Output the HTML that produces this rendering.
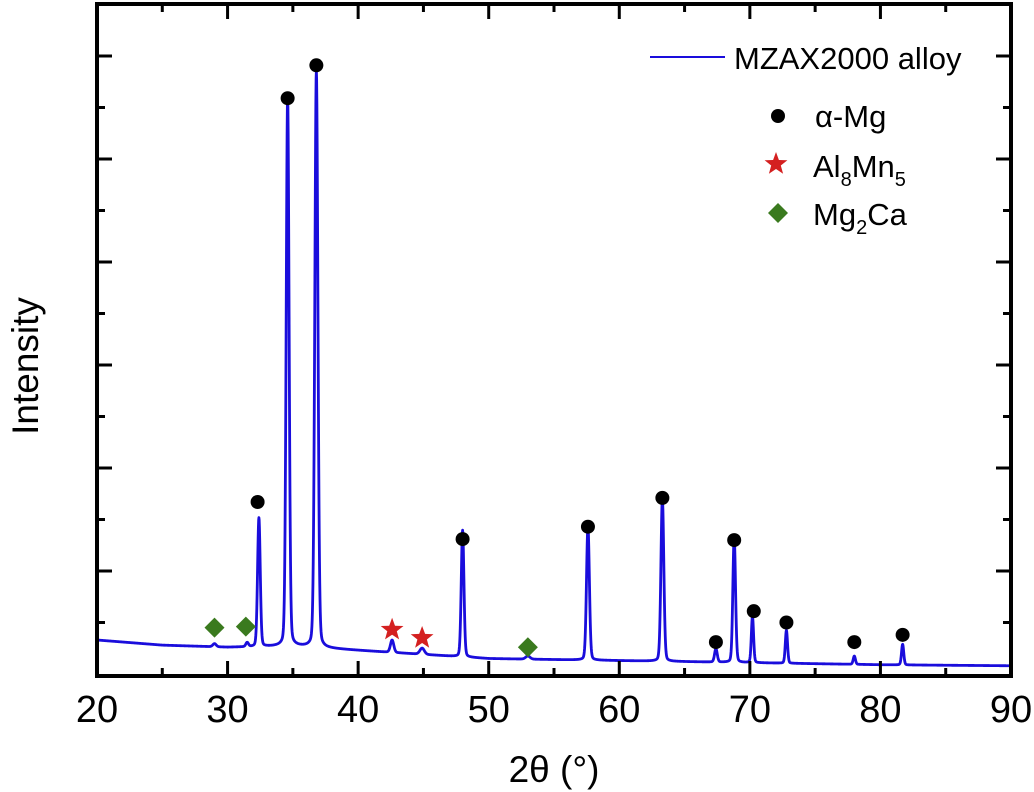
<!DOCTYPE html>
<html><head><meta charset="utf-8"><style>
body{margin:0;background:#fff;}
svg{display:block;font-family:"Liberation Sans",Arial,sans-serif;}
</style></head><body>
<svg id="chart" width="1034" height="792" viewBox="0 0 1034 792">
<g id="plot"></g>
<g id="marks"></g>
<g id="axes"></g>
<g id="legend">
  <g>
    <line x1="650" y1="57" x2="725" y2="57" stroke="#1a0ddc" stroke-width="2"/>
    <text x="734" y="69" font-size="31">MZAX2000 alloy</text>
  </g>
  <g>
    <circle cx="778" cy="116" r="7" fill="#000"/>
    <text x="815" y="127" font-size="31">α-Mg</text>
  </g>
  <g>
    <polygon id="legstar" fill="#d42020"/>
    <text x="813" y="177" font-size="31">Al<tspan font-size="20" dy="9">8</tspan><tspan dy="-9">Mn</tspan><tspan font-size="20" dy="9">5</tspan></text>
  </g>
  <g>
    <polygon points="778,203 788,213 778,223 768,213" fill="#3a7a1e"/>
    <text x="813" y="225" font-size="31">Mg<tspan font-size="20" dy="9">2</tspan><tspan dy="-9">Ca</tspan></text>
  </g>
</g>
<text x="554" y="782" font-size="37" text-anchor="middle">2θ (°)</text>
<text transform="translate(38,366) rotate(-90)" font-size="37" text-anchor="middle">Intensity</text>
</svg>
<script>
// data
const peakPos = [29.0,31.5,32.4,34.6,36.8,42.6,44.9,48.0,53.0,57.6,63.3,67.4,68.8,70.2,72.8,78.0,81.7];
const peakHeight = [0.03,0.04,1.25,5.33,5.60,0.12,0.06,1.23,0.03,1.30,1.58,0.13,1.22,0.45,0.32,0.08,0.20];
const peakWidth = [0.15,0.12,0.12,0.13,0.14,0.15,0.2,0.12,0.2,0.13,0.13,0.12,0.12,0.1,0.1,0.1,0.1];
const baseX = [20,25,30,35,40,45,50,55,60,65,70,80,90];
const baseY = [0.33,0.28,0.26,0.27,0.23,0.19,0.15,0.14,0.13,0.12,0.11,0.09,0.08];
const alphaMgX = [32.3,34.6,36.8,48.0,57.6,63.3,68.8,70.3,72.8,67.4,78.0,81.7];
const alphaMgY = [1.67,5.59,5.91,1.31,1.43,1.71,1.30,0.61,0.50,0.31,0.31,0.38];
const al8mn5X = [42.6,44.9];
const al8mn5Y = [0.43,0.35];
const mg2caX = [29.0,31.4,53.0];
const mg2caY = [0.45,0.46,0.26];
const xTicks = [20,30,40,50,60,70,80,90];

const X0=97,X1=1011,Ytop=4,Ybot=676;
const xs = v => X0 + (v-20)/(90-20)*(X1-X0);
const ys = v => 674 - v*103;
const NS='http://www.w3.org/2000/svg';
function mk(tag, attrs, parent){const e=document.createElementNS(NS,tag);for(const k in attrs)e.setAttribute(k,attrs[k]);parent.appendChild(e);return e;}
function base(x){for(let i=0;i<baseX.length-1;i++){if(x<=baseX[i+1]){const t=(x-baseX[i])/(baseX[i+1]-baseX[i]);return baseY[i]+t*(baseY[i+1]-baseY[i]);}}return baseY[baseY.length-1];}
function intensity(x){let s=base(x);for(let i=0;i<peakPos.length;i++){const d=(x-peakPos[i])/peakWidth[i];s+=peakHeight[i]*(0.85*Math.exp(-0.693*d*d)+0.15/(1+d*d));}return s;}
const plot=document.getElementById('plot');
let d='';
for(let x=20;x<=90.0001;x+=0.02){d+=(d?'L':'M')+xs(x).toFixed(2)+','+ys(intensity(x)).toFixed(2);}
const line=mk('path',{d:d,fill:'none',stroke:'#1a0ddc','stroke-width':2.8,'stroke-linejoin':'round'},plot);



function starPts(cx,cy,R,r){let p=[];for(let i=0;i<10;i++){const a=-Math.PI/2+i*Math.PI/5;const rr=i%2?r:R;p.push((cx+rr*Math.cos(a)).toFixed(1)+','+(cy+rr*Math.sin(a)).toFixed(1));}return p.join(' ');}
document.getElementById('legstar').setAttribute('points',starPts(776,164,12,5));
const marks=document.getElementById('marks');
for(let i=0;i<alphaMgX.length;i++){const c=mk('circle',{cx:xs(alphaMgX[i]),cy:ys(alphaMgY[i]),r:7,fill:'#000'},marks);

}
for(let i=0;i<al8mn5X.length;i++){const s=mk('polygon',{points:starPts(xs(al8mn5X[i]),ys(al8mn5Y[i]),12,5),fill:'#d42020'},marks);

}
for(let i=0;i<mg2caX.length;i++){const cx=xs(mg2caX[i]),cy=ys(mg2caY[i]);const q=mk('polygon',{points:`${cx},${cy-10} ${cx+10},${cy} ${cx},${cy+10} ${cx-10},${cy}`,fill:'#3a7a1e'},marks);

}

const axes=document.getElementById('axes');
const fr=mk('rect',{x:X0,y:Ytop,width:X1-X0,height:Ybot-Ytop,fill:'none',stroke:'#000','stroke-width':4},axes);


for(let v=20;v<=90;v+=5){const x=xs(v);const L=(v%10===0)?15:8;
mk('line',{x1:x,y1:Ybot,x2:x,y2:Ybot-L,stroke:'#000','stroke-width':3},axes);
mk('line',{x1:x,y1:Ytop,x2:x,y2:Ytop+L,stroke:'#000','stroke-width':3},axes);}
for(let k=0;k<13;k++){const y=674-k*51.5;if(y<Ytop+5||y>Ybot-3)continue;const L=(k%2===0)?15:8;
mk('line',{x1:X0,y1:y,x2:X0+L,y2:y,stroke:'#000','stroke-width':3},axes);
mk('line',{x1:X1,y1:y,x2:X1-L,y2:y,stroke:'#000','stroke-width':3},axes);}
for(const v of xTicks){const t=mk('text',{x:xs(v),y:722,'font-size':38,'text-anchor':'middle'},axes);t.textContent=v;

}
</script>
</body></html>
